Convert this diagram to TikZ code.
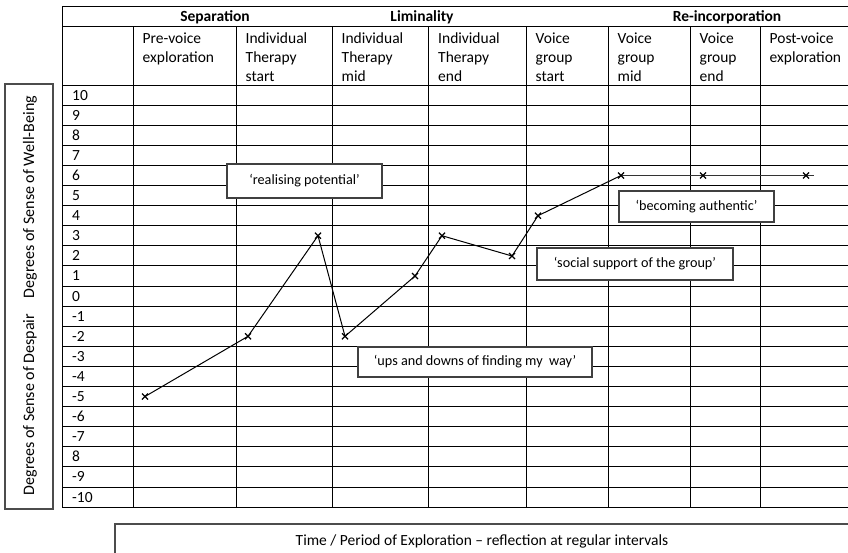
\documentclass[tikz,border=0pt]{standalone}
\usepackage{fontspec}
\setmainfont{Carlito}
\begin{document}
\begin{tikzpicture}[x=1pt,y=-1pt,
  gridline/.style={line width=0.9pt, black},
  hdr/.style={anchor=north west, align=left, text width=80pt, inner sep=0pt,
    font=\fontsize{15.5}{19}\selectfont},
  phase/.style={anchor=base, inner sep=0pt, font=\fontsize{15.5}{19}\selectfont\bfseries},
  num/.style={anchor=base west, inner sep=0pt, font=\fontsize{15.5}{19}\selectfont},
  note/.style={draw=black!75, line width=1.3pt, fill=white, inner sep=0pt,
    font=\fontsize{14.2}{17}\selectfont},
  frame/.style={draw=black!70, line width=1.2pt, fill=white},
  axiscap/.style={rotate=90, inner sep=0pt, font=\fontsize{16}{19}\selectfont},
  trend/.style={line width=1pt, black},
  crossmark/.style={line width=1.3pt, black}
]
\clip (0,0) rectangle (848,552);
\fill[white] (0,0) rectangle (848,552);

% column boundaries and row height
\def\rowtop{85}
\def\rowh{20.1}

% horizontal rules of the table
\draw[gridline] (62,6) -- (850,6);
\draw[gridline] (62,26) -- (850,26);
\foreach \k in {0,...,21}
  \draw[gridline] (62,{\rowtop+\k*\rowh}) -- (850,{\rowtop+\k*\rowh});
% vertical rules
\draw[gridline] (62,6) -- (62,{\rowtop+21*\rowh});
\foreach \cx in {133,236,332,428.5,526,608,690,760}
  \draw[gridline] (\cx,26) -- (\cx,{\rowtop+21*\rowh});

% phase titles
\node[phase] (sep) at (215,21) {Separation};
\node[phase] (lim) at (422,21) {Liminality};
\node[phase] (reinc) at (727,21) {Re-incorporation};

% period headings
\node[hdr] (h1) at (142.5,29.7) {\strut Pre-voice\\exploration};
\node[hdr] (h2) at (245.5,29.7) {\strut Individual\\Therapy\\start};
\node[hdr] (h3) at (341.5,29.7) {\strut Individual\\Therapy\\mid};
\node[hdr] (h4) at (438,29.7) {\strut Individual\\Therapy\\end};
\node[hdr] (h5) at (535.5,29.7) {\strut Voice\\group\\start};
\node[hdr] (h6) at (617.5,29.7) {\strut Voice\\group\\mid};
\node[hdr] (h7) at (699.5,29.7) {\strut Voice\\group\\end};
\node[hdr] (h8) at (769.5,29.7) {\strut Post-voice\\exploration};

% scale values
\foreach \v [count=\k from 0] in {10,9,8,7,6,5,4,3,2,1,0,-1,-2,-3,-4,-5,-6,-7,8,-9,-10}
  \node[num] (n\k) at (72,{\rowtop+\k*\rowh+15}) {\v};

% vertical axis caption
\node[frame, minimum width=48pt, minimum height=425pt, inner sep=0pt] (axisbox) at (29,296.5) {};
\node[axiscap] (despair) at (30,404.5) {Degrees of Sense of Despair};
\node[axiscap] (wellbeing) at (30,197) {Degrees of Sense of Well-Being};

% trajectory points
\coordinate (p1) at (145,396.5);
\coordinate (p2) at (248,336.3);
\coordinate (p3) at (318,235.7);
\coordinate (p4) at (345,336.3);
\coordinate (p5) at (415,276);
\coordinate (p6) at (442,235.7);
\coordinate (p7) at (512,256);
\coordinate (p8) at (538,215.7);
\coordinate (p9) at (621,175.5);
\coordinate (p10) at (703,175.5);
\coordinate (p11) at (806,175.5);
\coordinate (pend) at (814,175.5);

\draw[trend] (p1) -- (p2) -- (p3) -- (p4) -- (p5) -- (p6) -- (p7) -- (p8) -- (p9);
\draw[trend, black!80] (p9) -- (p10) -- (p11) -- (pend);
\foreach \p in {p1,p2,p3,p4,p5,p6,p7,p8,p9,p10,p11}
  \draw[crossmark] ([shift={(-3,-3)}]\p) -- ([shift={(3,3)}]\p)
              ([shift={(-3,3)}]\p) -- ([shift={(3,-3)}]\p);

% annotations
\node[note, minimum width=155pt, minimum height=34pt] (realising) at (304.5,181) {`realising potential'};
\node[note, minimum width=155pt, minimum height=31pt] (authentic) at (696.5,206.5) {`becoming authentic'};
\node[note, minimum width=196pt, minimum height=32pt] (social) at (635,264) {`social support of the group'};
\node[note, minimum width=234pt, minimum height=30pt] (ups) at (475,362) {`ups and downs of finding my\ \ way'};

% horizontal axis caption
\draw[frame] (115,524) rectangle (870,580);
\node[inner sep=0pt, font=\fontsize{15.5}{18}\selectfont] (timecap) at (482,541.5) {Time / Period of Exploration -- reflection at regular intervals};
\end{tikzpicture}
\end{document}
